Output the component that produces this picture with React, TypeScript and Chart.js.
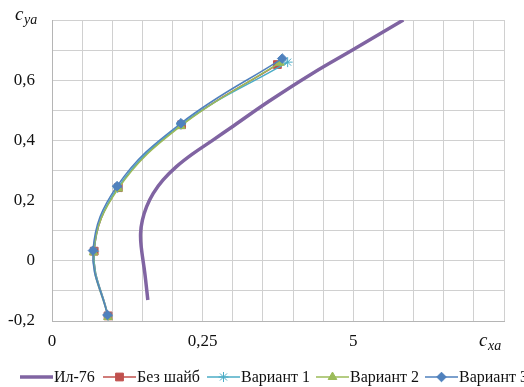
import React, { useEffect, useRef } from "react";
import { Chart, registerables } from "chart.js";
import { drawPoint } from "chart.js/helpers";

Chart.register(...registerables);

// ---- data ----
const il76X = [0.159, 0.154, 0.148, 0.147, 0.15, 0.157, 0.168, 0.184, 0.206, 0.234, 0.267, 0.301, 0.36, 0.43, 0.5, 0.583];
const il76Y = [-0.13, -0.041, 0.047, 0.091, 0.135, 0.18, 0.224, 0.268, 0.312, 0.356, 0.401, 0.448, 0.53, 0.62, 0.702, 0.8];

const bezX = [0.093, 0.07, 0.11, 0.215, 0.374];
const bezY = [-0.183, 0.032, 0.243, 0.452, 0.652];

const v1X = [0.093, 0.07, 0.109, 0.214, 0.391];
const v1Y = [-0.183, 0.032, 0.242, 0.452, 0.66];

const v2X = [0.093, 0.069, 0.11, 0.214, 0.378];
const v2Y = [-0.187, 0.028, 0.24, 0.448, 0.658];

const v3X = [0.092, 0.068, 0.108, 0.214, 0.382];
const v3Y = [-0.18, 0.034, 0.248, 0.457, 0.672];

const seriesNames = ["Ил-76", "Без шайб", "Вариант 1", "Вариант 2", "Вариант 3"];

const xTickValues = [0, 0.25, 0.5];
const xTickTexts = ["0", "0,25", "5"];
const yTickValues = [-0.2, 0, 0.2, 0.4, 0.6];
const yTickTexts = ["-0,2", "0", "0,2", "0,4", "0,6"];

const COLORS = ["#8064A2", "#C0504D", "#4BACC6", "#9BBB59", "#4F81BD"];
const STYLES = ["line", "rect", "star", "triangle", "rectRot"];
const RADII = [0, 5.5, 5, 5, 4.8];
const FONT = "Liberation Serif";

Chart.defaults.font.family = FONT;

const zip = (xs: number[], ys: number[]) => xs.map((x, i) => ({ x, y: ys[i] }));

const findLabel = (vals: number[], texts: string[], v: number) => {
  const i = vals.findIndex((t) => Math.abs(t - v) < 1e-6);
  return i >= 0 ? texts[i] : "";
};

const overlayPlugin = {
  id: "overlay",
  afterDraw(chart: any) {
    const ctx = chart.ctx as CanvasRenderingContext2D;
    ctx.save();
    // axis titles
    ctx.fillStyle = "#111";
    ctx.textBaseline = "alphabetic";
    ctx.textAlign = "left";
    ctx.font = `italic 19px ${FONT}`;
    ctx.fillText("c", 15, 20);
    ctx.font = `italic 14px ${FONT}`;
    ctx.fillText("ya", 24, 24);
    ctx.font = `italic 19px ${FONT}`;
    ctx.fillText("c", 479, 346);
    ctx.font = `italic 14px ${FONT}`;
    ctx.fillText("xa", 488, 350);

    // legend
    const starts = [20, 103, 207, 316, 425];
    const ly = 377;
    ctx.font = `16px ${FONT}`;
    ctx.textBaseline = "middle";
    seriesNames.forEach((name, i) => {
      const x0 = starts[i];
      const x1 = x0 + 33;
      ctx.strokeStyle = COLORS[i];
      ctx.lineWidth = i === 0 ? 3.5 : 1.5;
      ctx.beginPath();
      ctx.moveTo(x0, ly);
      ctx.lineTo(x1, ly);
      ctx.stroke();
      if (i > 0) {
        ctx.fillStyle = COLORS[i];
        ctx.strokeStyle = COLORS[i];
        ctx.lineWidth = 1;
        drawPoint(ctx, { pointStyle: STYLES[i], rotation: 0, radius: RADII[i], borderWidth: 1 } as any, (x0 + x1) / 2, ly);
      }
      ctx.fillStyle = "#111";
      ctx.fillText(name, x1 + 1, ly + 1);
    });
    ctx.restore();
  },
};

export default function App() {
  const ref = useRef<HTMLCanvasElement | null>(null);

  useEffect(() => {
    if (!ref.current) return;
    const mk = (i: number, xs: number[], ys: number[], order: number) => ({
      label: seriesNames[i],
      data: zip(xs, ys),
      borderColor: COLORS[i],
      backgroundColor: COLORS[i],
      borderWidth: i === 0 ? 3.5 : 1.5,
      pointStyle: STYLES[i] as any,
      pointRadius: RADII[i],
      pointBorderWidth: 1,
      pointHoverRadius: 0,
      tension: 0.4,
      fill: false,
      order,
    });
    const chart = new Chart(ref.current, {
      type: "line",
      data: {
        datasets: [
          mk(0, il76X, il76Y, 4),
          mk(1, bezX, bezY, 3),
          mk(2, v1X, v1Y, 2),
          mk(3, v2X, v2Y, 1),
          mk(4, v3X, v3Y, 0),
        ],
      },
      options: {
        animation: false,
        responsive: false,
        devicePixelRatio: 1,
        layout: { padding: { top: 20, right: 20, left: 0, bottom: 0 } },
        plugins: { legend: { display: false }, tooltip: { enabled: false } },
        scales: {
          x: {
            type: "linear",
            min: 0,
            max: 0.75,
            afterFit: (s: any) => {
              s.height = 66;
              s.paddingLeft = 0;
              s.paddingRight = 0;
            },
            grid: { color: "#d0d0d0", lineWidth: 1, drawTicks: false },
            border: { color: "#b5b5b5", width: 1 },
            ticks: {
              stepSize: 0.05,
              autoSkip: false,
              maxRotation: 0,
              padding: 10,
              color: "#111",
              font: { family: FONT, size: 17 },
              callback: (v: any) => findLabel(xTickValues, xTickTexts, Number(v)),
            },
          },
          y: {
            type: "linear",
            min: -0.2,
            max: 0.8,
            afterFit: (s: any) => {
              s.width = 52;
              s.paddingTop = 0;
              s.paddingBottom = 0;
            },
            grid: { color: "#d0d0d0", lineWidth: 1, drawTicks: false },
            border: { color: "#b5b5b5", width: 1 },
            ticks: {
              stepSize: 0.1,
              autoSkip: false,
              padding: 17,
              color: "#111",
              font: { family: FONT, size: 17 },
              callback: (v: any) => findLabel(yTickValues, yTickTexts, Number(v)),
            },
          },
        },
      },
      plugins: [overlayPlugin],
    });
    return () => chart.destroy();
  }, []);

  return (
    <div style={{ position: "absolute", left: 0, top: 0, width: 524, height: 387, background: "#fff" }}>
      <canvas ref={ref} width={524} height={387} style={{ display: "block" }} />
    </div>
  );
}
